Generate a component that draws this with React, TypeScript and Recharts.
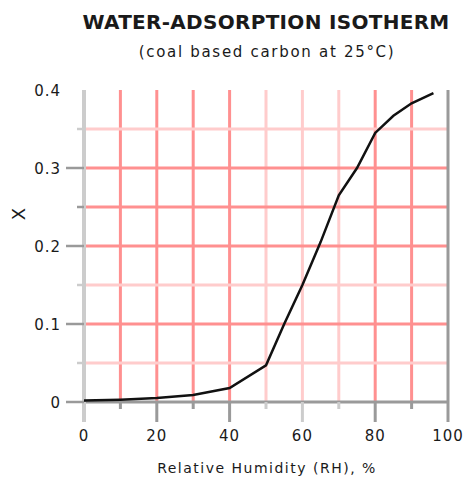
import { LineChart, Line, XAxis, YAxis, ReferenceLine } from 'recharts'

const humidity = [0, 10, 20, 30, 40, 50, 55, 60, 65, 70, 75, 80, 85, 90, 96]
const loading = [0.002, 0.003, 0.005, 0.009, 0.018, 0.047, 0.1, 0.15, 0.205, 0.265, 0.3, 0.345, 0.367, 0.383, 0.396]

const xTicks = [0, 10, 20, 30, 40, 50, 60, 70, 80, 90, 100]
const xLabels = [0, 20, 40, 60, 80, 100]
const yTicks = [0, 0.05, 0.1, 0.15, 0.2, 0.25, 0.3, 0.35, 0.4]
const yLabels = [0, 0.1, 0.2, 0.3, 0.4]

const xGrid = [10, 20, 30, 40, 50, 60, 70, 80, 90]
const yGrid = [0.05, 0.1, 0.15, 0.2, 0.25, 0.3, 0.35]

// lines drawn in the paler shade
const paleX = [0, 50, 60, 70]
const paleY = [0.05, 0.15, 0.35]

const RED = '#ff9090'
const PINK = '#ffcccc'
const GREY = '#9a9a9a'
const LIGHT = '#cccccc'
const FONT = '"DejaVu Sans", sans-serif'

const data = humidity.map((rh, i) => ({ rh, x: loading[i] }))

function XTick({ x, y, payload }: any) {
  const v = payload.value
  const major = xLabels.includes(v)
  return (
    <g>
      <line x1={x} x2={x} y1={y} y2={y + (major ? 20 : 7)} stroke={paleX.includes(v) ? LIGHT : GREY} strokeWidth={v === 0 ? 4 : 3} />
      {major && (
        <text x={x} y={y + 39} textAnchor="middle" fontFamily={FONT} fontSize={15} letterSpacing={1} fill="#1a1a1a">
          {v}
        </text>
      )}
    </g>
  )
}

function YTick({ x, y, payload }: any) {
  const v = payload.value
  const major = yLabels.includes(v)
  return (
    <g>
      {v !== 0.4 && (
        <line x1={x - (major ? 18 : 7)} x2={x} y1={y} y2={y} stroke={paleY.includes(v) ? LIGHT : GREY} strokeWidth={2.5} />
      )}
      {major && (
        <text x={x - 23} y={y + 5.5} textAnchor="end" fontFamily={FONT} fontSize={15} letterSpacing={1} fill="#1a1a1a">
          {String(v)}
        </text>
      )}
    </g>
  )
}

export default function App() {
  return (
    <div style={{ position: 'absolute', left: 0, top: 0, width: 467, height: 478, background: '#fff', fontFamily: FONT, color: '#1a1a1a' }}>
      <div style={{ position: 'absolute', left: 266, top: 11, transform: 'translateX(-50%)', whiteSpace: 'nowrap', fontSize: 20, lineHeight: '22px', fontWeight: 'bold', letterSpacing: 0.3 }}>
        WATER-ADSORPTION ISOTHERM
      </div>
      <div style={{ position: 'absolute', left: 267, top: 43, transform: 'translateX(-50%)', whiteSpace: 'nowrap', fontSize: 15, lineHeight: '18px', letterSpacing: 1.7 }}>
        (coal based carbon at 25°C)
      </div>
      <div style={{ position: 'absolute', left: 19, top: 214, transform: 'translate(-50%, -50%) rotate(-90deg)', fontSize: 18, lineHeight: '20px' }}>
        X
      </div>
      <div style={{ position: 'absolute', left: 267, top: 459, transform: 'translateX(-50%)', whiteSpace: 'nowrap', fontSize: 14, lineHeight: '18px', letterSpacing: 1.5 }}>
        Relative Humidity (RH), %
      </div>
      <div style={{ position: 'absolute', left: 0, top: 0 }}>
        <LineChart width={467} height={478} data={data} margin={{ top: 90, right: 19, bottom: 0, left: 0 }}>
          <XAxis
            type="number"
            dataKey="rh"
            domain={[0, 100]}
            ticks={xTicks}
            interval={0}
            axisLine={false}
            tickLine={false}
            tickSize={0}
            tickMargin={0}
            height={76}
            tick={<XTick />}
          />
          <YAxis
            type="number"
            domain={[0, 0.4]}
            ticks={yTicks}
            interval={0}
            axisLine={false}
            tickLine={false}
            tickSize={0}
            tickMargin={0}
            width={84}
            tick={<YTick />}
          />
          {xGrid.map((v) => (
            <ReferenceLine key={`gx${v}`} x={v} stroke={paleX.includes(v) ? PINK : RED} strokeWidth={3} />
          ))}
          {yGrid.map((v) => (
            <ReferenceLine key={`gy${v}`} y={v} stroke={paleY.includes(v) ? PINK : RED} strokeWidth={3} />
          ))}
          <ReferenceLine x={0} stroke={LIGHT} strokeWidth={4} />
          <ReferenceLine x={100} stroke={GREY} strokeWidth={3} />
          <ReferenceLine y={0} stroke={GREY} strokeWidth={3} />
          <Line type="linear" dataKey="x" stroke="#111" strokeWidth={2.5} dot={false} isAnimationActive={false} />
        </LineChart>
      </div>
    </div>
  )
}
